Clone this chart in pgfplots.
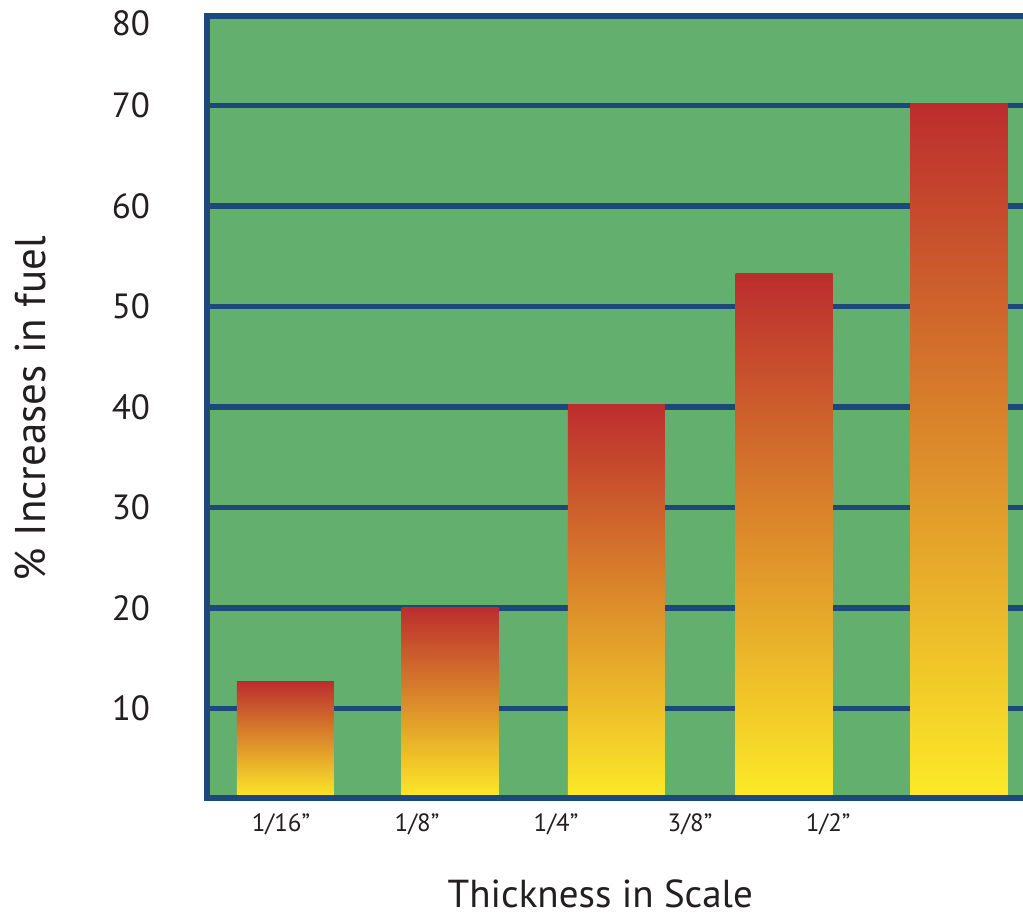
\documentclass[border=0pt]{standalone}
\usepackage{fontspec}
\setmainfont{PT Sans}
\usepackage{pgfplots}
\pgfplotsset{compat=1.18}

\definecolor{plotgreen}{RGB}{99,175,110}
\definecolor{framecol}{RGB}{28,72,122}
\definecolor{bartop}{RGB}{188,45,46}
\definecolor{barmid}{RGB}{212,128,48}
\definecolor{barbot}{RGB}{252,234,40}
\definecolor{txt}{RGB}{35,31,32}

\begin{document}
\begin{tikzpicture}
\begin{axis}[
    name=A,
    scale only axis,
    width=408pt, height=391pt,
    xmin=-0.466, xmax=4.379,
    ymin=1.1, ymax=78.9,
    axis line style={draw=none},
    axis background/.style={fill=plotgreen},
    tick style={draw=none},
    major tick length=0pt,
    ymajorgrids,
    grid style={framecol, line width=2.8pt},
    ytick={10,20,...,70},
    extra y ticks={78.2},
    extra y tick labels={80},
    extra y tick style={grid=none},
    xtick={-0.027,0.781,1.606,2.402,3.222},
    xticklabels={1/16”,1/8”,1/4”,3/8”,1/2”},
    /pgf/number format/assume math mode=true,
    yticklabel style={font=\fontsize{17.5}{20}\selectfont, text=txt, xshift=-25pt},
    xticklabel style={font=\fontsize{12.5}{15}\selectfont, text=txt, yshift=-4.5pt},
    xlabel={Thickness in Scale},
    xlabel style={at={(axis description cs:0.482,-0.1228)}, anchor=center,
                  font=\fontsize{19.5}{22}\selectfont, text=txt},
    ylabel={\% Increases in fuel},
    ylabel style={at={(axis description cs:-0.2169,0.498)}, anchor=center,
                  font=\fontsize{21.5}{24}\selectfont, text=txt},
    no markers,
    every axis plot/.append style={ybar, bar width=0.576, draw=none,
        top color=bartop, middle color=barmid, bottom color=barbot},
]
% one plot per bar so that each bar gets its own red-to-yellow shading
\addplot coordinates {(0,12.7)};
\addplot coordinates {(0.977,20.1)};
\addplot coordinates {(1.964,40.2)};
\addplot coordinates {(2.96,53.3)};
\addplot coordinates {(4.0,70.2)};
\end{axis}
% frame: left, top and bottom only
\draw[framecol, line width=3.2pt]
  (A.north east) -- (A.north west) -- (A.south west) -- (A.south east);
\pgfresetboundingbox
\path[use as bounding box] ([shift={(-103.5pt,-59pt)}]A.south west)
  rectangle ([shift={(0pt,8pt)}]A.north east);
\end{tikzpicture}
\end{document}
